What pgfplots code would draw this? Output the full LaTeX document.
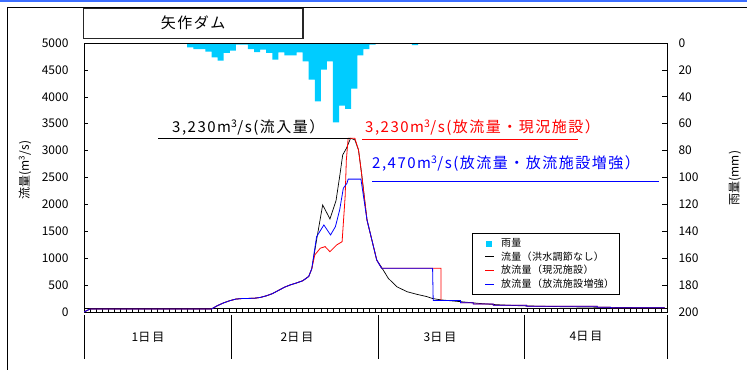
\documentclass[border=0pt]{standalone}
\usepackage{pgfplots}
\pgfplotsset{compat=1.18}
\usepackage{fontspec}
\setmainfont{Noto Sans CJK JP}
\newfontfamily\annot[LetterSpace=10]{Noto Sans CJK JP}
\newfontfamily\legfont[LetterSpace=3]{Noto Sans CJK JP}
\definecolor{rain}{RGB}{0,204,255}
\definecolor{frameblue}{RGB}{60,110,255}
\begin{document}
\begin{tikzpicture}[x=1pt,y=1pt]
\useasboundingbox (-84,-58) rectangle (663,312);
% outer frame
\draw[frameblue,line width=2pt] (-84,310.5) -- (663,310.5);
\draw[black,line width=0.8pt] (663,305) -- (-77,305) -- (-77,-58);
% title box
\draw[line width=1.1pt,black!85] (-0.7,303.5) rectangle (219,273.7);
\node[font=\annot\fontsize{15}{18}\selectfont] at (109,289) {矢作ダム};

% rainfall axis (right, reversed)
\begin{axis}[
  at={(291.5pt,134.5pt)}, anchor=center,
  width=583pt, height=269pt, scale only axis,
  xmin=0, xmax=96, ymin=0, ymax=200, y dir=reverse,
  axis y line*=right, axis x line=none,
  ytick={0,20,...,200},
  tick align=inside, major tick length=5pt,
  axis line style={line width=1pt},
  tick style={line width=0.8pt,black},
  yticklabel style={font=\fontsize{12}{14}\selectfont, xshift=8pt},
  /pgf/number format/assume math mode=true,
]
\addplot[ybar, bar width=6.073pt, bar shift=0pt, fill=rain, draw=none] coordinates {
(17.5,3.2)(18.5,4.5)(19.5,4.5)(20.5,6.5)(21.5,10.7)(22.5,13.1)(23.5,7.4)(24.5,5.6)
(25.5,1.2)(26.5,1.2)(27.5,4.5)(28.5,6.7)(29.5,5.0)(30.5,7.4)(31.5,12.4)(32.5,6.9)
(33.5,9.2)(34.5,9.2)(35.5,6.9)(36.5,13.6)(37.5,27.3)(38.5,43.4)(39.5,19.8)(40.5,13.6)
(41.5,59.0)(42.5,46.6)(43.5,49.0)(44.5,34.0)(45.5,9.2)(46.5,4.5)(47.5,1.2)(54.5,1.6)
};
\end{axis}

% flow axis (left)
\begin{axis}[
  at={(291.5pt,134.5pt)}, anchor=center,
  width=583pt, height=269pt, scale only axis,
  xmin=0, xmax=96, ymin=0, ymax=5000,
  xtick={0,1,...,96}, xticklabels={},
  ytick={0,500,...,5000},
  ytick pos=left, xtick pos=bottom,
  tick align=inside, major tick length=3.5pt,
  axis line style={line width=0.9pt},
  tick style={line width=0.6pt,black},
  yticklabel style={font=\fontsize{12}{14}\selectfont, xshift=-12pt},
  /pgf/number format/assume math mode=true,
  /pgf/number format/1000 sep={},
  legend style={at={(0.665,0.2926)}, anchor=north west, draw=black, line width=0.9pt,
    fill=white, font=\legfont\fontsize{10}{12}\selectfont, row sep=-0.5pt,
    inner xsep=3pt, inner ysep=3pt},
  legend cell align=left,
  legend image code/.code={\path[draw=none] (0pt,0pt) (24pt,0pt); \draw[#1, line width=0.8pt] (10pt,0pt) -- (19pt,0pt);},
]
\draw[line width=0.6pt] ([yshift=3.5pt]rel axis cs:0,0) -- ([yshift=3.5pt]rel axis cs:1,0);
\addlegendimage{draw=none, legend image code/.code={\path[draw=none] (0pt,0pt) (24pt,0pt); \fill[rain, draw=none] (10.5pt,-3pt) rectangle (16.5pt,3pt);}}
\addlegendentry{雨量}
\addplot[black, line width=0.7pt] coordinates {
(0,0)(1,56)(21,56)(22,120)(23,170)(24,210)(25,240)(26,250)(28,255)(29,270)(30,300)
(31,340)(32,400)(33,460)(34,505)(35,540)(36,580)(37,660)(37.5,800)(38.3,1340)(39.3,1990)
(40.5,1730)(41.5,2070)(42.1,2520)(42.6,2920)(43.2,3040)(43.9,3230)(44.6,3200)(45.2,3013)
(45.7,2580)(46.6,1711)(47.4,1339)(48.2,967)(49,830)(49.6,720)(50.1,627)(51.5,470)
(53.2,377)(54.8,329)(56.5,285)(57.4,250)(58.8,225)(62,192)(65,160)(68,135)(72,115)
(78,100)(84,90)(90,82)(95.6,78)
};
\addlegendentry{流量（洪水調節なし）}
\addplot[red, line width=0.8pt] coordinates {
(0,0)(1,56)(21,56)(22,120)(23,170)(24,210)(25,240)(26,250)(28,255)(29,270)(30,300)
(31,340)(32,400)(33,460)(34,505)(35,540)(36,580)(37,660)(37.5,800)(38,1060)(38.9,1185)
(39.7,1215)(40.5,1121)(41.6,1246)(42.5,1307)(43,2145)(43.2,2827)(43.5,3230)(44.6,3230)
(45.2,3013)(45.7,2580)(46.6,1711)(47.4,1339)(48.2,967)(49,812)(58.8,812)(58.8,215)
(62,215)(62,173)(64.1,173)(64.1,149)(67.4,149)(67.4,124)(72.9,124)(72.9,106)
(84.5,106)(84.5,87)(86.7,87)(86.7,80)(95.6,80)
};
\addlegendentry{放流量（現況施設）}
\addplot[blue, line width=0.8pt] coordinates {
(0,0)(1,56)(21,56)(22,120)(23,170)(24,210)(25,240)(26,250)(28,255)(29,270)(30,300)
(31,340)(32,400)(33,460)(34,505)(35,540)(36,580)(37,660)(37.5,800)(37.8,1029)(38.3,1400)
(39.5,1618)(40.6,1432)(41.4,1587)(42.1,1897)(42.7,2300)(43.3,2393)(43.5,2470)(45.6,2470)
(46.6,1711)(47.4,1339)(48.2,967)(49,812)(57.4,812)(57.5,215)
(62,215)(62,173)(64.1,173)(64.1,149)(67.4,149)(67.4,124)(72.9,124)(72.9,106)
(84.5,106)(84.5,87)(86.7,87)(86.7,80)(95.6,80)
};
\addlegendentry{放流量（放流施設増強）}
\end{axis}

% day band
\foreach \xx in {0,147,294,440,583} {\draw[line width=0.8pt] (\xx,-3) -- (\xx,-47);}
\node[font=\fontsize{12}{14}\selectfont] at (64,-25) {1日\,目};
\node[font=\fontsize{12}{14}\selectfont] at (213,-25) {2日\,目};
\node[font=\fontsize{12}{14}\selectfont] at (356,-25) {3日\,目};
\node[font=\fontsize{12}{14}\selectfont] at (502,-24) {4日\,目};

% axis labels
\node[rotate=90, font=\fontsize{12}{14}\selectfont] at (-59,142) {流量(m\textsuperscript{3}/s)};
\node[rotate=90, font=\fontsize{12}{14}\selectfont] at (651,134) {雨量(mm)};

% annotations
\draw[black, line width=0.8pt] (74,173.5) -- (266,173.5);
\node[anchor=base west, inner sep=0pt, font=\annot\fontsize{15}{18}\selectfont] at (88,179) {3,230m\textsuperscript{3}/s(流入量）};
\draw[red, line width=0.9pt] (278,172.5) -- (494,172.5);
\node[anchor=base west, inner sep=0pt, text=red, font=\annot\fontsize{15}{18}\selectfont] at (281,179) {3,230m\textsuperscript{3}/s(放流量・現況施設）};
\draw[blue, line width=0.9pt] (288,130.5) -- (575,130.5);
\node[anchor=base west, inner sep=0pt, text=blue, font=\annot\fontsize{15}{18}\selectfont] at (288,143) {2,470m\textsuperscript{3}/s(放流量・放流施設増強）};
\end{tikzpicture}
\end{document}
